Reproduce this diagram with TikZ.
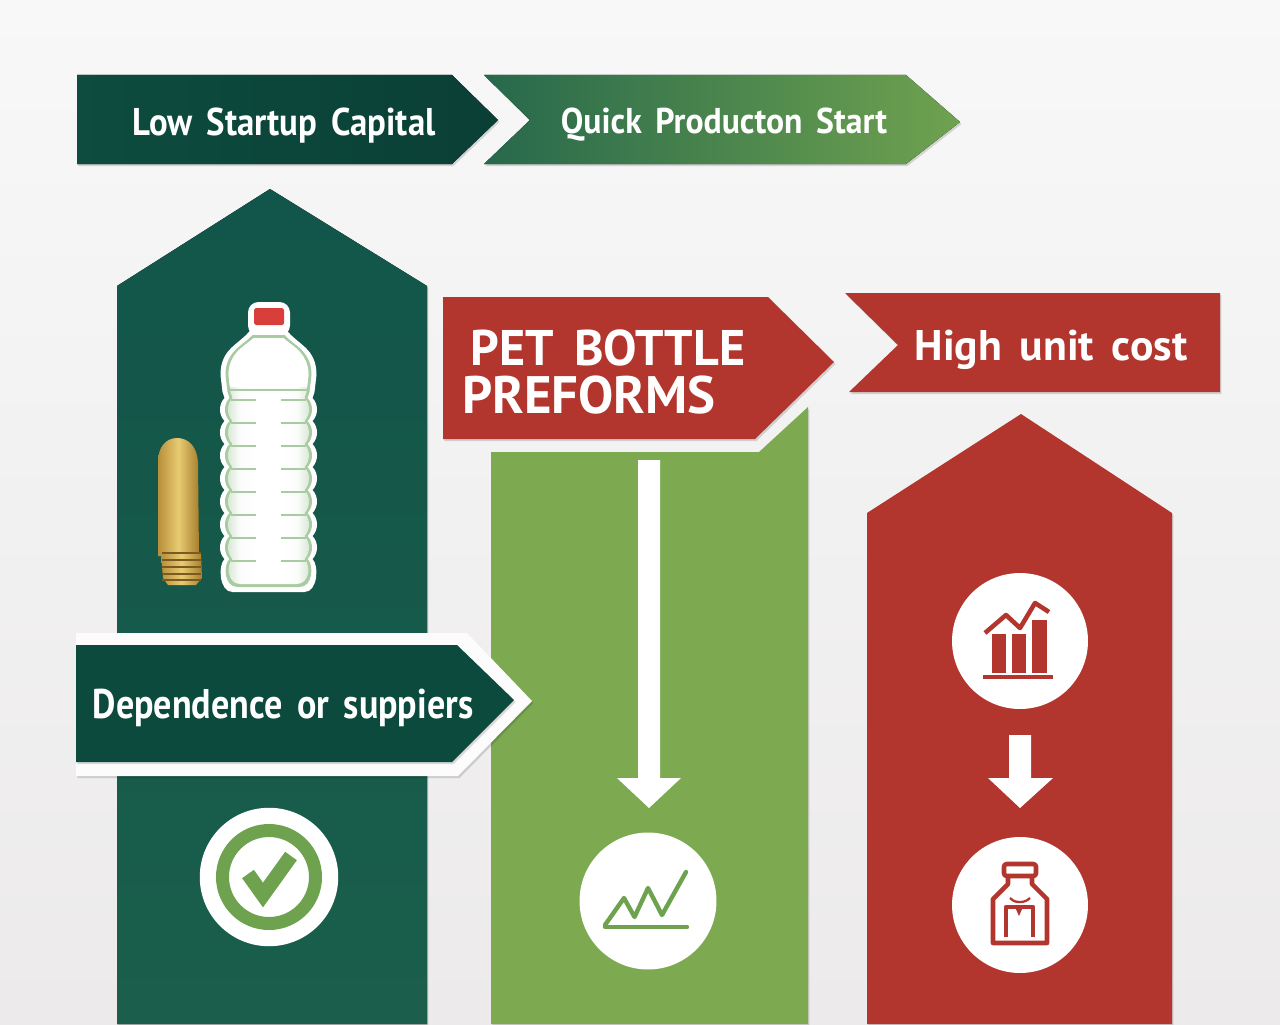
\documentclass[tikz,border=0pt]{standalone}
\usepackage{fontspec}
\setmainfont{PT Sans}[WordSpace=1.6]
\usetikzlibrary{shadows,fadings}
\definecolor{dkgreen}{HTML}{0C4A3E}
\definecolor{dkgreenb}{HTML}{1A5E4B}
\definecolor{dkgreent}{HTML}{12554A}
\definecolor{midgreen}{HTML}{7DA951}
\definecolor{lgreen}{HTML}{6FA24F}
\definecolor{brick}{HTML}{B2362D}
\definecolor{bgtop}{HTML}{F8F8F8}
\definecolor{bgmid}{HTML}{FCFCFC}
\definecolor{bgbot}{HTML}{ECEAEA}
\definecolor{goldl}{HTML}{B88F3A}
\definecolor{goldm}{HTML}{E8CB72}
\definecolor{goldr}{HTML}{A87F2E}
\definecolor{goldd}{HTML}{7A5A20}
\definecolor{capred}{HTML}{D93F3A}
\definecolor{glass}{HTML}{A9CBA2}
\definecolor{glassb}{HTML}{D5E4D1}
\pgfdeclarehorizontalshading{glassy}{100bp}{color(0bp)=(glassb); color(25bp)=(glassb); color(33bp)=(white!90!glassb); color(42bp)=(white); color(58bp)=(white); color(67bp)=(white!90!glassb); color(75bp)=(glassb); color(100bp)=(glassb)}
\newcommand{\bottlepath}[1]{%
 ({268.5-18+#1*.4},{330+#1}) -- ({268.5+18-#1*.4},{330+#1})
 .. controls ({298-#1},345) and ({316.5-#1},{348+#1*.5}) .. ({316.5-#1},375) -- ({314.5-#1},392) -- ({312.5-#1},398)
 \foreach \a in {0,...,6}{ .. controls ({318.5-#1},{398+\a*23+6}) and ({318.5-#1},{398+\a*23+17}) .. ({312.5-#1},{398+\a*23+23}) }
 .. controls ({319-#1},565) and ({318-#1},{592-#1}) .. ({304.5-#1},{592-#1}) -- ({232.5+#1},{592-#1})
 .. controls ({219+#1},{592-#1}) and ({218+#1},565) .. ({224.5+#1},559)
 \foreach \a in {6,...,0}{ .. controls ({218.5+#1},{398+\a*23+17}) and ({218.5+#1},{398+\a*23+6}) .. ({224.5+#1},{398+\a*23}) }
 -- ({222.5+#1},392) -- ({220.5+#1},375) .. controls ({220.5+#1},{348+#1*.5}) and ({239+#1},345) .. cycle}
\tikzset{
 x=0.02cm,y=-0.02cm,
 soft/.style={general shadow={shadow xshift=.8pt,shadow yshift=-1.2pt,fill=black,opacity=.14}},
 label/.style={text=white,font=\bfseries,inner sep=0pt,anchor=base},
 disc/.style={circle,fill=white,draw=none,inner sep=0pt,minimum size=#1},
 iconred/.style={draw=brick,line width=2.6pt,line join=round},
 icongreen/.style={draw=lgreen,line width=2.5pt,line join=round,line cap=round},
}
\begin{document}
\begin{tikzpicture}
\useasboundingbox (0,0) rectangle (1280,1024);
% background
\fill[top color=bgtop,middle color=bgmid,bottom color=bgbot] (0,0) rectangle (1280,1024);
% columns
\fill[top color=dkgreent,bottom color=dkgreenb,soft] (117,1024) -- (117,286) -- (270,189) -- (427,286) -- (427,1024) -- cycle;
\fill[midgreen,soft] (491,1024) -- (491,452) -- (759,452) -- (808,407) -- (808,1024) -- cycle;
\fill[brick,soft] (867,1024) -- (867,513) -- (1021,414) -- (1172,513) -- (1172,1024) -- cycle;
% top banners
\fill[left color=dkgreen!90!dkgreenb,right color=dkgreen!85!black,soft] (77,75) -- (452,75) -- (498,120) -- (452,164) -- (77,164) -- cycle;
\fill[left color=dkgreenb!85!lgreen,right color=lgreen,soft] (484,75) -- (906,75) -- (960,122) -- (906,164) -- (484,164) -- (530,120) -- cycle;
\node[label,font=\bfseries\fontsize{22pt}{24pt}\selectfont,xscale=.9] (lowcap) at (284,135) {Low Startup Capital};
\node[label,font=\bfseries\fontsize{20.4pt}{22pt}\selectfont,xscale=.94] (quick) at (724,133) {Quick Producton Start};
% PET banner
\fill[brick,soft] (443,297) -- (768,297) -- (834,362) -- (755,439) -- (443,439) -- cycle;
\node[label,font=\bfseries\fontsize{28.5pt}{30pt}\selectfont] (pet) at (608,365) {PET BOTTLE};
\node[label,font=\bfseries\fontsize{30pt}{32pt}\selectfont] (pre) at (589,413) {PREFORMS};
% High unit cost banner
\fill[brick,soft] (845,293) -- (1220,293) -- (1220,392) -- (849,392) -- (898,345) -- cycle;
\node[label,font=\bfseries\fontsize{24.4pt}{26pt}\selectfont,xscale=1.02] (high) at (1051,360) {High unit cost};
% Dependence banner
\fill[bgmid,soft] (76,633) -- (467,633) -- (532,701) -- (458,776) -- (76,776) -- cycle;
\fill[dkgreen,soft] (76,645) -- (457,645) -- (514,700) -- (452,762) -- (76,762) -- cycle;
\node[label,font=\bfseries\fontsize{23.6pt}{25pt}\selectfont,xscale=.87] (dep) at (283,718) {Dependence or suppiers};
% white arrow in green column
\fill[white] (638,460) -- (660,460) -- (660,778) -- (681,778) -- (649,808) -- (617,778) -- (638,778) -- cycle;
% white arrow in red column
\fill[white] (1009,735) -- (1031,735) -- (1031,778) -- (1053,778) -- (1020,808) -- (988,778) -- (1009,778) -- cycle;
% preform
\shade[left color=goldl,right color=goldr,middle color=goldm] (158,556) -- (158,462) .. controls (158,447) and (166,438) .. (177,438) .. controls (189,438) and (197,447) .. (198,462) -- (199,556) -- cycle;
\shade[left color=goldl,right color=goldr,middle color=goldm] (161,554) -- (201,554) -- (202,578) -- (196,585) -- (168,585) -- (163,578) -- cycle;
\foreach \y in {553,560,567,574,580} \draw[goldd,line width=.7pt] (162,\y) -- (201,\y);
% bottle
\fill[white,rounded corners=6pt] (248,302) rectangle (290,336);
\fill[white] \bottlepath{0};
\fill[glass] \bottlepath{5};
\shade[shading=glassy] \bottlepath{8};
\begin{scope}
\clip \bottlepath{8};
\fill[white] (200,300) rectangle (340,387);
\end{scope}
\draw[glass,line width=1.2pt] (229,390) -- (308,390);
\foreach \a in {0,...,7}{
 \draw[glass,line width=.8pt] (231,{400+\a*23}) -- (256,{400+\a*23});
 \draw[glass,line width=.8pt] (281,{400+\a*23}) -- (306,{400+\a*23});}
\fill[capred,rounded corners=1pt] (254,308) rectangle (284,325);
% check icon
\node[disc=2.77cm] (okdisc) at (269,877) {};
\draw[lgreen,line width=7.4pt] (okdisc) circle (46.5);
\draw[lgreen,line width=8.2pt,line join=miter] (248,874) -- (263,895) -- (291,856);
% growth icon
\node[disc=2.74cm] (gdisc) at (648,901) {};
\draw[icongreen] (605,927) -- (687,927);
\draw[icongreen] (605,925) -- (624,898) -- (634.5,917) -- (648,888) -- (662,915) -- (686,872);
% chart icon
\node[disc=2.72cm] (chartdisc) at (1020,641) {};
\fill[brick] (992,634) rectangle (1006,673);
\fill[brick] (1012,634) rectangle (1026,673);
\fill[brick] (1032,620) rectangle (1047,673);
\fill[brick] (983,675) rectangle (1053,679);
\draw[iconred] (985,633) -- (1006,615) -- (1020,628) -- (1035,603) -- (1049,612);
% jar icon
\node[disc=2.72cm] (jardisc) at (1020,905) {};
\draw[iconred,rounded corners=1.5pt] (1004,864) rectangle (1036,876);
\draw[iconred] (1008,876) -- (1008,884) -- (993,899) -- (993,943) -- (1047,943) -- (1047,899) -- (1032,884) -- (1032,876);
\draw[iconred] (1006,937) -- (1006,907) -- (1033,907) -- (1033,937);
\draw[iconred,line width=1.3pt] (1010,898) .. controls (1014,902) and (1017,902) .. (1019,902) .. controls (1022,902) and (1026,902) .. (1030,898);
\fill[brick] (1015,907) -- (1023,907) -- (1019,916) -- cycle;
\end{tikzpicture}
\end{document}
